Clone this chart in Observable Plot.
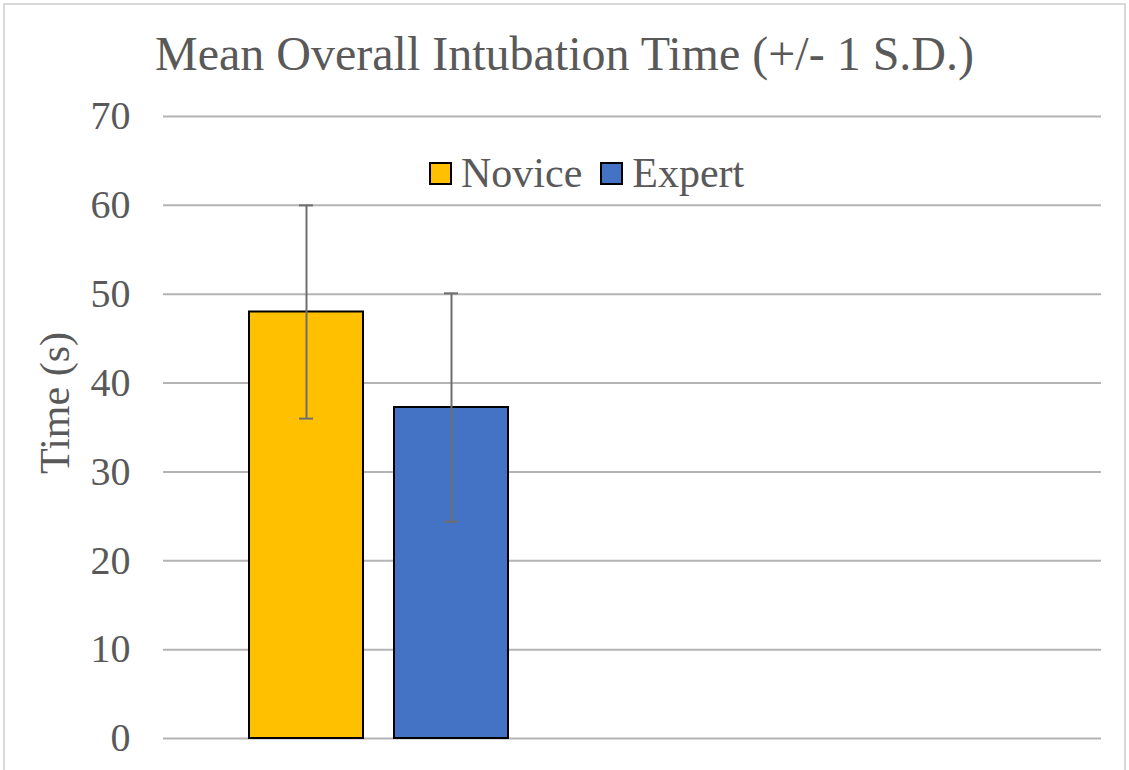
<!DOCTYPE html>
<html>
<head>
<meta charset="utf-8">
<script src="https://cdn.jsdelivr.net/npm/d3@7"></script>
<script src="https://cdn.jsdelivr.net/npm/@observablehq/plot@0.6"></script>
<style>
  body { margin: 0; background: #fff; }
  #wrap { position: relative; width: 1129px; height: 770px; overflow: hidden; font-family: "Liberation Serif", "Times New Roman", serif; color: #595959; }
  #border { position: absolute; left: 3px; top: 3px; width: 1123px; height: 780px; border: 2px solid #d9d9d9; box-sizing: border-box; }
  #title { position: absolute; left: 0; width: 1129px; top: 30px; text-align: center; font-size: 48px; line-height: 48px; white-space: nowrap; }
  #ylabel { position: absolute; left: 55px; top: 403px; font-size: 42px; line-height: 42px; white-space: nowrap; transform: translate(-50%, -50%) rotate(-90deg); }
  #legend { position: absolute; left: 429px; top: 152px; display: flex; align-items: center; font-size: 42px; line-height: 42px; white-space: nowrap; }
  .sw { width: 23px; height: 23px; box-sizing: border-box; border: 2px solid #000; margin-right: 9px; }
  .lab { margin-right: 18px; }
  svg { position: absolute; left: 0; top: 0; }
</style>
</head>
<body>
<div id="wrap">
  <div id="border"></div>
  <div id="title"></div>
  <div id="ylabel"></div>
  <div id="legend"></div>
</div>
<script>
const titleText = "Mean Overall Intubation Time (+/- 1 S.D.)";
const yLabel = "Time (s)";
const categories = ["Novice", "Expert"];
const means = [48, 37.25];
const sds = [12, 12.85];
const colors = ["#FFC000", "#4472C4"];
const yTicks = [0, 10, 20, 30, 40, 50, 60, 70];

const data = categories.map((c, i) => ({cat: c, mean: means[i], lo: means[i] - sds[i], hi: means[i] + sds[i]}));

document.getElementById("title").textContent = titleText;
document.getElementById("ylabel").textContent = yLabel;
const legend = document.getElementById("legend");
categories.forEach((c, i) => {
  const sw = document.createElement("div");
  sw.className = "sw";
  sw.style.background = colors[i];
  const lab = document.createElement("span");
  lab.className = "lab";
  lab.textContent = c;
  legend.appendChild(sw);
  legend.appendChild(lab);
});

const chart = Plot.plot({
  width: 1129,
  height: 770,
  marginTop: 116,
  marginBottom: 32,
  marginLeft: 163,
  marginRight: 28,
  style: {fontFamily: "'Liberation Serif', 'Times New Roman', serif", fontSize: "40px", color: "#595959", background: "transparent"},
  x: {domain: categories, range: [249, 508], paddingInner: 31 / 145, paddingOuter: 0, axis: null},
  y: {domain: [0, 70], ticks: yTicks, tickSize: 0, tickPadding: 33, label: null},
  color: {domain: categories, range: colors},
  marks: [
    Plot.ruleY(yTicks, {stroke: "#b4b4b4", strokeWidth: 2, strokeOpacity: 1}),
    Plot.barY(data, {x: "cat", y: "mean", fill: "cat", stroke: "#000", strokeWidth: 2}),
    Plot.ruleX(data, {x: "cat", y1: "lo", y2: "hi", stroke: "#6e6e6e", strokeWidth: 2}),
    Plot.tickY(data, {x: "cat", y: "lo", stroke: "#6e6e6e", strokeWidth: 2, insetLeft: 50, insetRight: 50}),
    Plot.tickY(data, {x: "cat", y: "hi", stroke: "#6e6e6e", strokeWidth: 2, insetLeft: 50, insetRight: 50})
  ]
});
document.getElementById("wrap").appendChild(chart);
</script>
</body>
</html>
